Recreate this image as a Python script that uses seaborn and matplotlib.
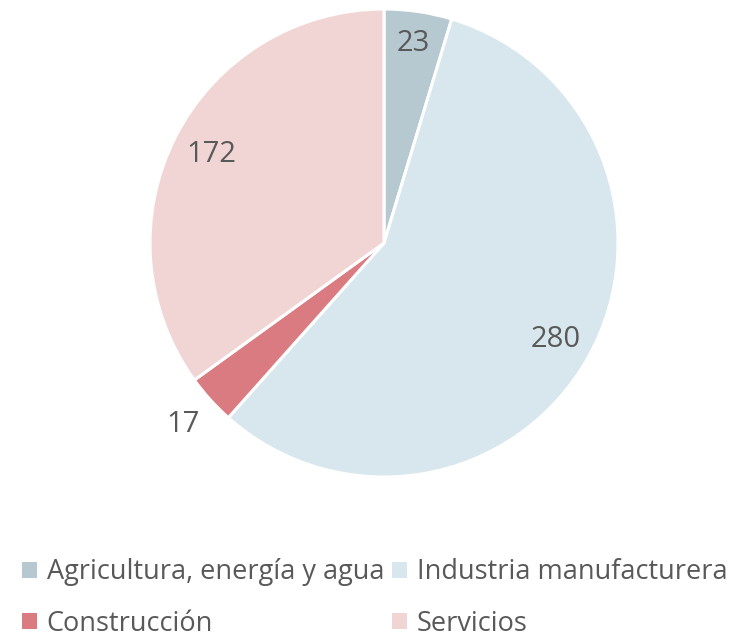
import numpy as np
import matplotlib
matplotlib.use("Agg")
import matplotlib.pyplot as plt
import seaborn as sns
from matplotlib.patches import Patch

sectores = ["Agricultura, energía y agua", "Industria manufacturera", "Construcción", "Servicios"]
valores = [23, 280, 17, 172]
colores = ["#b7c9d0", "#d8e7ee", "#d97b80", "#f1d5d4"]
# distancia de cada etiqueta al centro (radio = 1)
dist_etiquetas = [0.86, 0.84, 1.16, 0.83]

sns.set_theme(style="white")
plt.rcParams["font.family"] = ["Open Sans", "DejaVu Sans"]
gris = "#595959"

fig = plt.figure(figsize=(7.42, 6.41), dpi=100)
W, H = 742, 641
cx, cy, r = 384, 243, 234
ax = fig.add_axes([(cx - r) / W, (H - cy - r) / H, 2 * r / W, 2 * r / H])

wedges, _ = ax.pie(valores, colors=colores, startangle=90, counterclock=False,
                   wedgeprops=dict(edgecolor="white", linewidth=2.2))
ax.set_xlim(-1, 1)
ax.set_ylim(-1, 1)
ax.set_aspect("equal")

for w, v, d in zip(wedges, valores, dist_etiquetas):
    ang = np.deg2rad((w.theta1 + w.theta2) / 2)
    ax.text(d * np.cos(ang), d * np.sin(ang), str(v), ha="center", va="center",
            fontsize=21, color=gris)

# la leyenda se rellena por columnas: reordenar para que quede por filas
orden = [0, 2, 1, 3]
handles = [Patch(facecolor=colores[i], edgecolor="none") for i in orden]
etiquetas = [sectores[i] for i in orden]
fig.legend(handles, etiquetas, ncol=2, loc="center", bbox_to_anchor=(0.505, 1 - 598 / H),
           frameon=False, fontsize=19.5, labelcolor=gris, handlelength=0.55, handleheight=0.55,
           handletextpad=0.35, columnspacing=0.3, labelspacing=0.85)

fig.savefig("out.png", dpi=100)
